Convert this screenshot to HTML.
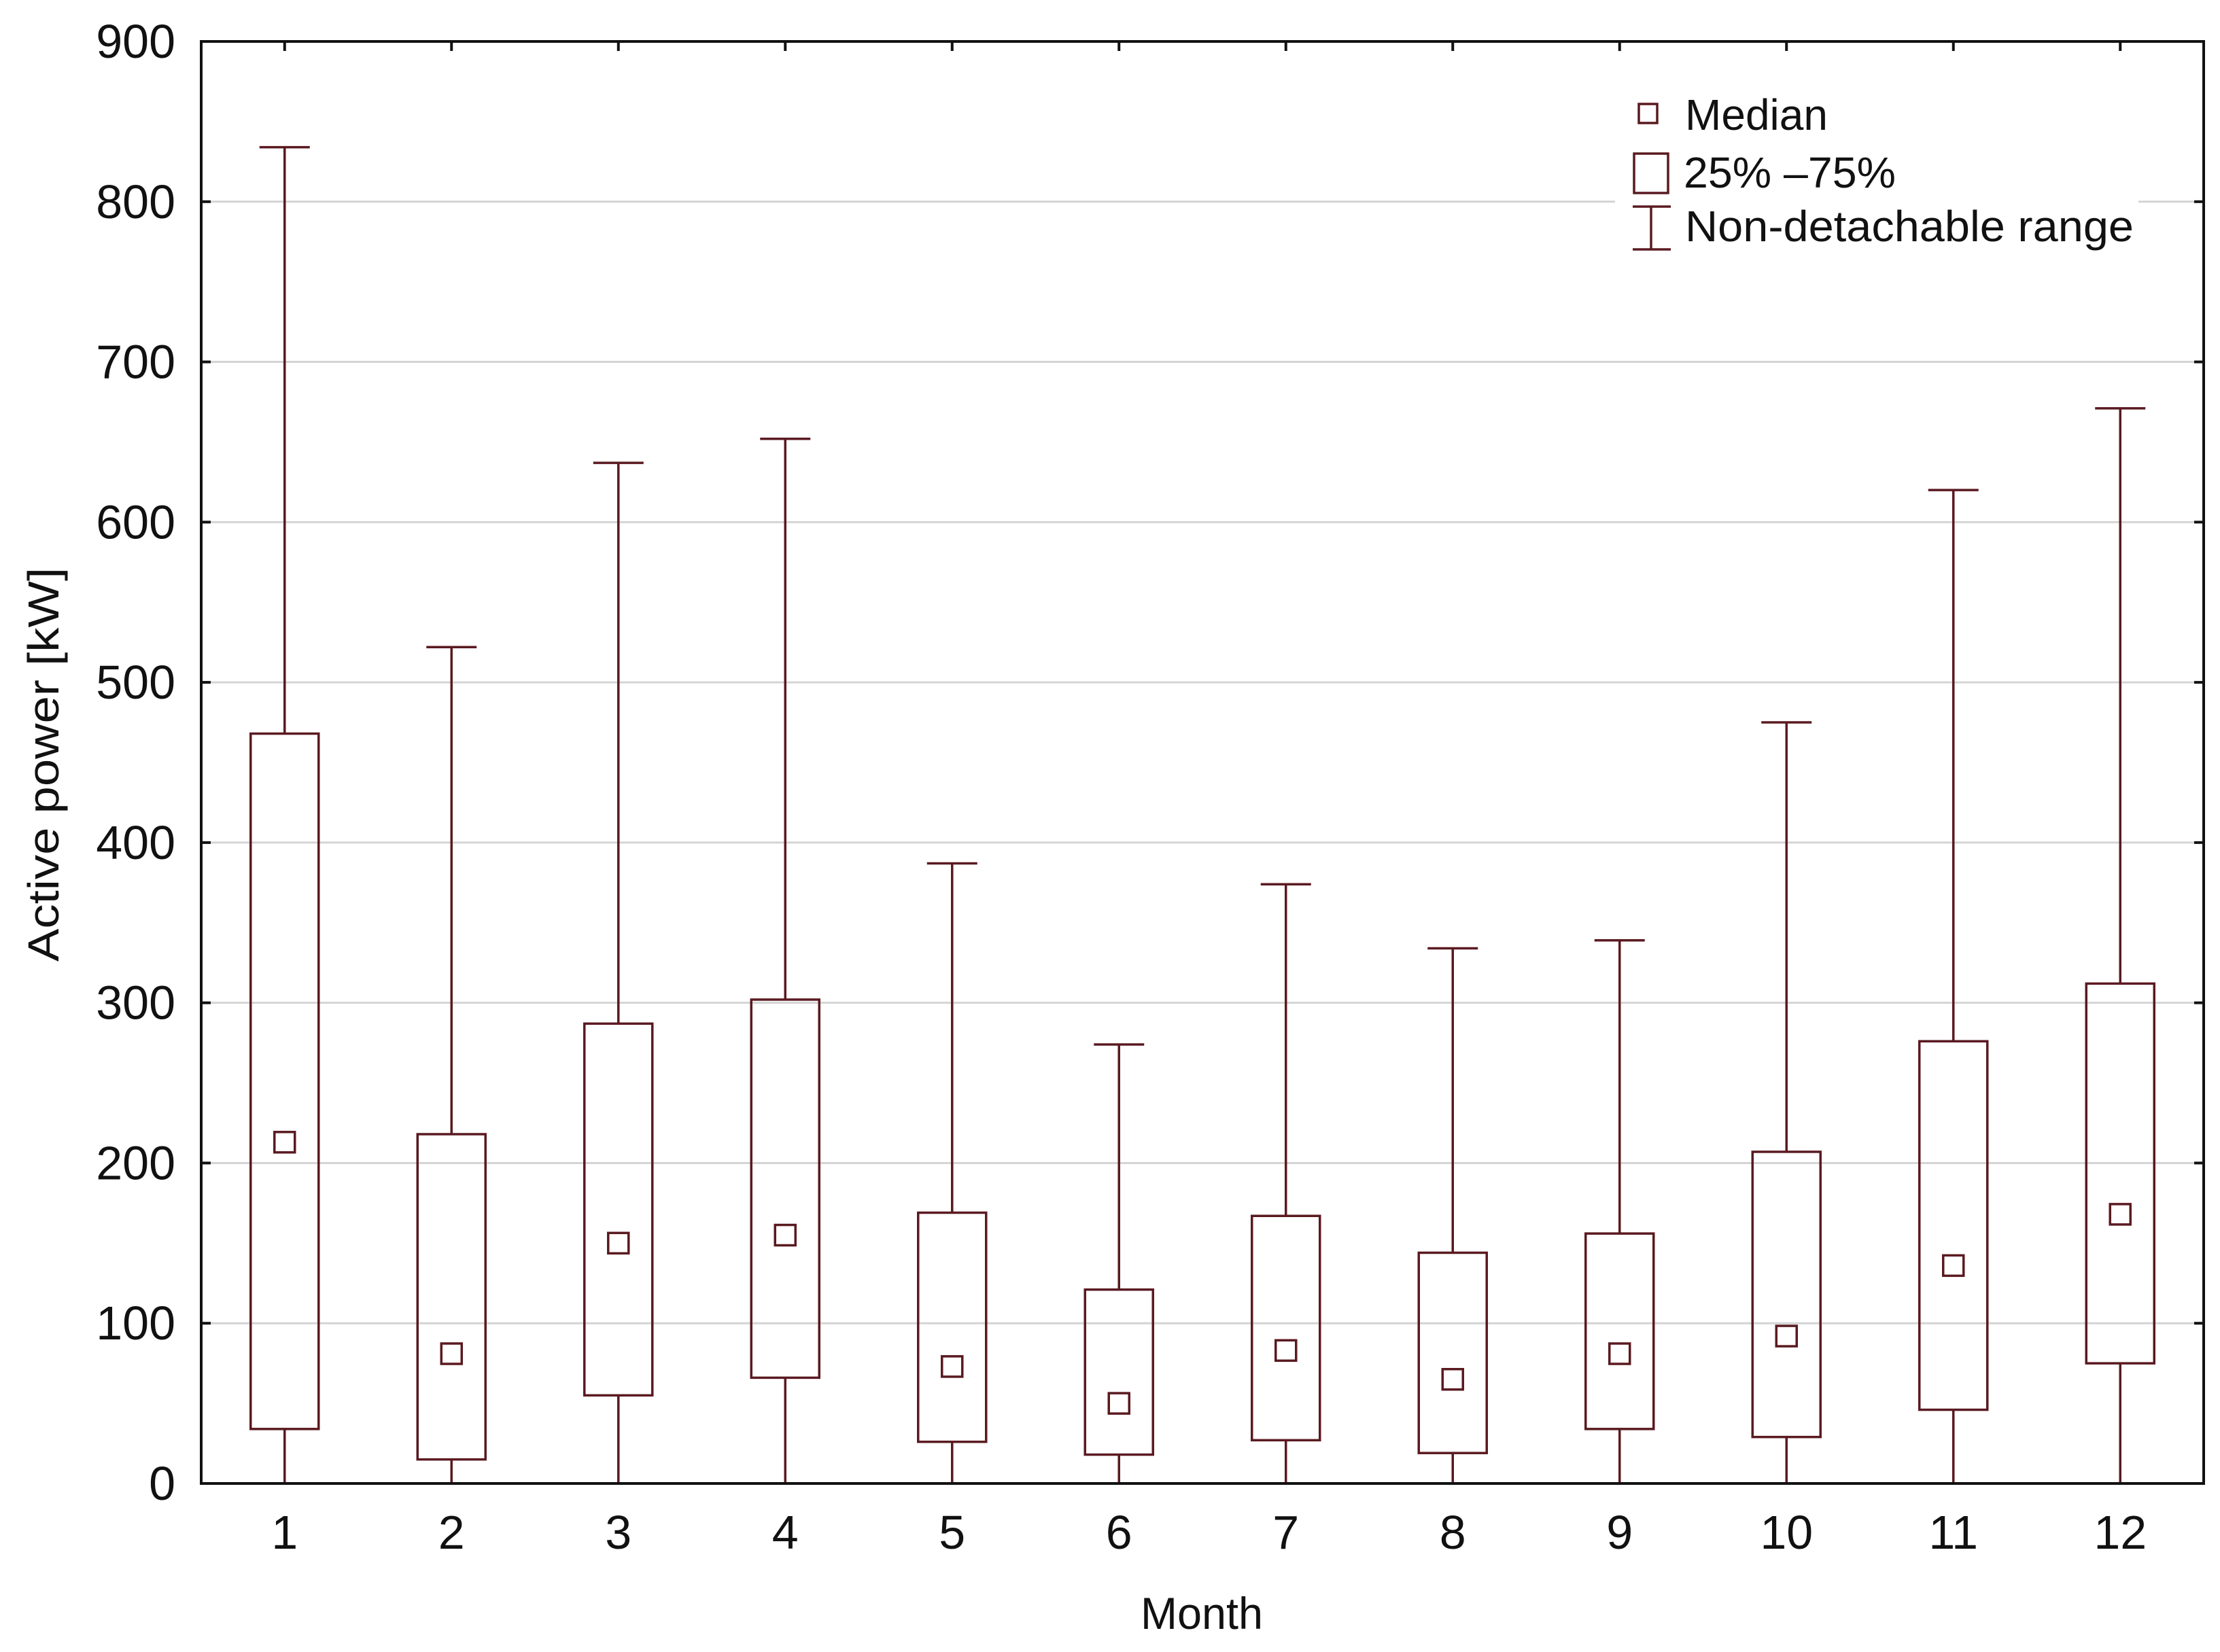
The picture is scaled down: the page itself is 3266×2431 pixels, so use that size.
<!DOCTYPE html>
<html><head><meta charset="utf-8"><style>
html,body{margin:0;padding:0;background:#fff;}
svg{display:block;}
text{font-family:"Liberation Sans",Arial,sans-serif;fill:#111;}
</style></head><body>
<svg id="chart" width="3266" height="2431" viewBox="0 0 3266 2431" xmlns="http://www.w3.org/2000/svg">
<rect x="0" y="0" width="3266" height="2431" fill="#fff"/>
<g id="grid"></g>
<g id="marks"></g>
<rect x="296" y="61" width="2946" height="2122" fill="none" stroke="#111" stroke-width="4"/>
<g id="axes"></g>
<text transform="translate(86,1125) rotate(-90)" text-anchor="middle" font-size="64" textLength="580" lengthAdjust="spacingAndGlyphs">Active power [kW]</text>
<text x="1768" y="2397" text-anchor="middle" font-size="66" textLength="180" lengthAdjust="spacingAndGlyphs">Month</text>
<g>
<rect x="2376" y="120" width="770" height="260" fill="#fff"/>
<g>
<rect x="2411" y="153" width="27" height="28" fill="none" stroke="#5a1a20" stroke-width="3.5"/>
<text x="2479" y="191" font-size="64" textLength="210" lengthAdjust="spacingAndGlyphs">Median</text>
</g>
<g>
<rect x="2404" y="226" width="50" height="58" fill="none" stroke="#5a1a20" stroke-width="3.5"/>
<text x="2477" y="276" font-size="64" textLength="312" lengthAdjust="spacingAndGlyphs">25% –75%</text>
</g>
<g stroke="#5a1a20" stroke-width="3.5">
<line x1="2402" y1="304" x2="2458" y2="304"/>
<line x1="2429" y1="304" x2="2429" y2="367"/>
<line x1="2402" y1="367" x2="2458" y2="367"/>
<text x="2479" y="355" font-size="64" stroke="none" textLength="660" lengthAdjust="spacingAndGlyphs">Non-detachable range</text>
</g>
</g>
</svg>
<script>
const months = ["1","2","3","4","5","6","7","8","9","10","11","12"];
const maxVals = [834,522,637,652,387,274,374,334,339,475,620,671];
const q3Vals = [468,218,287,302,169,121,167,144,156,207,276,312];
const medianVals = [213,81,150,155,73,50,83,65,81,92,136,168];
const q1Vals = [34,15,55,66,26,18,27,19,34,29,46,75];
const minVals = [0,0,0,0,0,0,0,0,0,0,0,0];
const yTicks = [0,100,200,300,400,500,600,700,800,900];

const NS = "http://www.w3.org/2000/svg";
const L = 296, R = 3242, T = 61, B = 2183;
const band = (R - L) / months.length;
function xPos(i){ return L + (i + 0.5) * band; }
function yPos(v){ return B - (v / 900) * (B - T); }
function mk(tag, attrs, parent){
  const e = document.createElementNS(NS, tag);
  for (const k in attrs) e.setAttribute(k, attrs[k]);
  parent.appendChild(e);
  return e;
}
const grid = document.getElementById('grid');
const marks = document.getElementById('marks');
const axes = document.getElementById('axes');
const C = "#5a1a20";

yTicks.forEach(v => {
  const y = yPos(v);
  if (v > 0 && v < 900) {
    const g = mk('line', {x1:L, x2:R, y1:y, y2:y, stroke:'#d4d4d4', 'stroke-width':3}, grid);
    
    
  }
  const t1 = mk('line', {x1:L, x2:L+14, y1:y, y2:y, stroke:'#111', 'stroke-width':4}, axes);
  
  
  const t2 = mk('line', {x1:R-14, x2:R, y1:y, y2:y, stroke:'#111', 'stroke-width':4}, axes);
  
  
  const lab = mk('text', {x:258, y:y+24, 'text-anchor':'end', 'font-size':70}, axes);
  lab.textContent = v;
  
  
});

months.forEach((m, i) => {
  const x = xPos(i);
  const tk = mk('line', {x1:x, x2:x, y1:T, y2:T+14, stroke:'#111', 'stroke-width':4}, axes);
  
  
  const lab = mk('text', {x:x, y:2279, 'text-anchor':'middle', 'font-size':70}, axes);
  lab.textContent = m;
  
  

  const g = mk('g', {}, marks);
  
  
  const st = {stroke:C, 'stroke-width':3.5, fill:'none'};
  const w1 = mk('line', Object.assign({x1:x, x2:x, y1:yPos(maxVals[i]), y2:yPos(q3Vals[i])}, st), g);
  
  
  const cap = mk('line', Object.assign({x1:x-37, x2:x+37, y1:yPos(maxVals[i]), y2:yPos(maxVals[i])}, st), g);
  
  
  const w2 = mk('line', Object.assign({x1:x, x2:x, y1:yPos(q1Vals[i]), y2:yPos(minVals[i])}, st), g);
  
  
  const bx = mk('rect', Object.assign({x:x-50, y:yPos(q3Vals[i]), width:100, height:yPos(q1Vals[i])-yPos(q3Vals[i])}, st), g);
  
  
  const md = mk('rect', Object.assign({x:x-15, y:yPos(medianVals[i])-15, width:30, height:30}, st), g);
  
  
});
</script>
</body></html>
